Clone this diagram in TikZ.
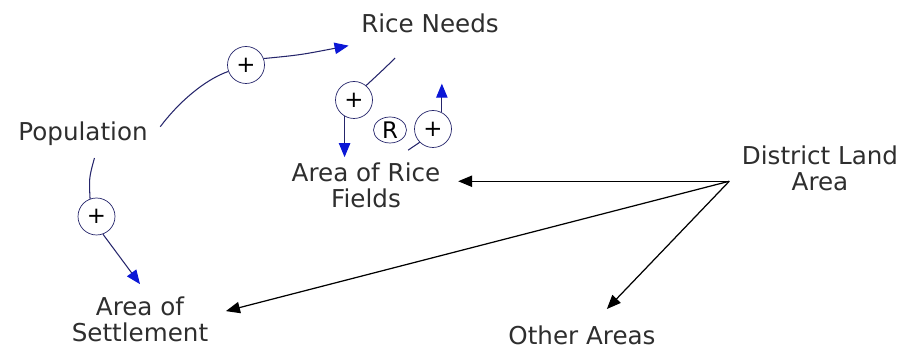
\documentclass[tikz,border=0pt]{standalone}
\usepackage{fontspec}
\setmainfont{DejaVu Sans}
\usetikzlibrary{positioning, arrows.meta, shapes.geometric}
\definecolor{linkline}{HTML}{25256B}
\definecolor{linkhead}{HTML}{0B17D6}
\definecolor{textmain}{HTML}{2E2E2E}

\begin{document}
\begin{tikzpicture}[
    x=0.02cm, y=-0.02cm,
    var/.style={align=center, text=textmain, inner sep=7pt,
                font=\fontsize{14}{15}\selectfont},
    pol/.style={circle, draw=linkline, fill=white, minimum size=0.74cm,
                inner sep=0pt, font=\fontsize{13}{13}\selectfont},
    loopsym/.style={ellipse, draw=linkline, minimum width=0.66cm,
                minimum height=0.52cm, inner sep=0pt, font=\fontsize{13}{13}\selectfont},
    cause/.style={linkline, line width=0.6pt},
    causehead/.style={cause, -{Triangle[length=8pt, width=6.5pt, color=linkhead]}},
    share/.style={black, line width=0.7pt, -{Triangle[length=8pt, width=6.5pt]}, shorten >=3pt}
  ]
    \useasboundingbox (0,0) rectangle (900,350);
    \node[var] (need) at (430,23.5) {Rice Needs};
    \node[var] (pop) at (83,133.5) {Population};
    \node[var] (arf) at (366,185.5) {Area of Rice\\Fields};
    \node[var] (dla) at (820,168.5) {District Land\\Area};
    \node[var] (aset) at (140,319.5) {Area of\\Settlement};
    \node[var] (oth) at (582,335) {Other Areas};

    \node[pol] (p1) at (246,65) {+};
    \node[pol] (p2) at (354,100) {+};
    \node[pol] (p3) at (433,129) {+};
    \node[pol] (p4) at (96.5,216.5) {+};
    \node[loopsym] (r) at (390,130) {R};

    \draw[cause] (pop.5) .. controls (178,103) and (204,80) .. (p1.200);
    \draw[causehead] (p1.20) .. controls (300,55) .. (need.south west);
    \draw[cause, shorten <=10pt] (need) .. controls (385,68) .. (p2.50);
    \draw[causehead, shorten >=-4pt] (p2.240) -- (p2.240 |- arf.north);
    \draw[cause] (arf.40) -- (p3.225);
    \draw[causehead, shorten >=0.76cm] (p3.62) -- (p3.62 |- need.south);
    \draw[cause] (pop.-65) .. controls (89,178) .. (p4.110);
    \draw[causehead] (p4.290) -- (aset.north);

    \draw[share] (dla.188) -- (dla.188 -| arf.east);
    \draw[share] (dla.188) -- (aset.5);
    \draw[share] (dla.188) -- (oth);
\end{tikzpicture}
\end{document}
